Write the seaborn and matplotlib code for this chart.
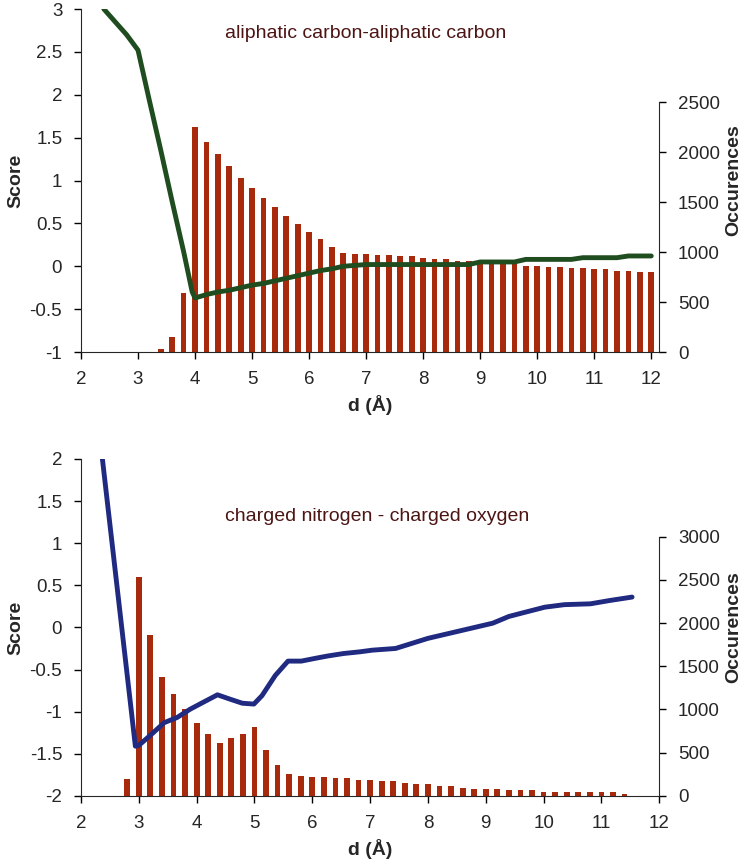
import numpy as np
import pandas as pd
import matplotlib
matplotlib.use("Agg")
import matplotlib.pyplot as plt
from matplotlib.ticker import FuncFormatter
import seaborn as sns

# --- painel de cima: carbono alifatico - carbono alifatico
cc_bar_d = [3.4, 3.6, 3.8, 4.0, 4.2, 4.4, 4.6, 4.8, 5.0, 5.2, 5.4, 5.6, 5.8, 6.0,
            6.2, 6.4, 6.6, 6.8, 7.0, 7.2, 7.4, 7.6, 7.8, 8.0, 8.2, 8.4, 8.6, 8.8,
            9.0, 9.2, 9.4, 9.6, 9.8, 10.0, 10.2, 10.4, 10.6, 10.8, 11.0, 11.2,
            11.4, 11.6, 11.8, 12.0]
cc_counts = [33, 150, 593, 2247, 2103, 1977, 1860, 1743, 1643, 1543, 1453, 1357,
             1283, 1200, 1127, 1053, 993, 980, 977, 967, 967, 957, 957, 943, 927,
             927, 910, 910, 890, 890, 883, 877, 863, 863, 850, 850, 840, 840, 827,
             827, 810, 810, 797, 797]
cc_line_d = [2.4, 2.8, 3.0, 3.2, 3.4, 3.6, 3.8, 3.95, 4.0, 4.2, 4.4, 4.6, 4.8, 5.0,
             5.2, 5.4, 5.6, 5.8, 6.0, 6.2, 6.4, 6.6, 6.8, 7.0, 7.4, 7.8, 8.2, 8.6,
             8.8, 9.0, 9.6, 9.8, 10.6, 10.8, 11.4, 11.6, 12.0]
cc_score = [3.0, 2.7, 2.52, 1.93, 1.35, 0.75, 0.17, -0.3, -0.37, -0.33, -0.3, -0.28,
            -0.25, -0.22, -0.2, -0.17, -0.14, -0.11, -0.08, -0.05, -0.03, 0.0, 0.01,
            0.02, 0.02, 0.02, 0.02, 0.02, 0.02, 0.05, 0.05, 0.08, 0.08, 0.1, 0.1,
            0.12, 0.12]

# --- painel de baixo: nitrogenio carregado - oxigenio carregado
no_bar_d = [2.8, 3.0, 3.2, 3.4, 3.6, 3.8, 4.0, 4.2, 4.4, 4.6, 4.8, 5.0, 5.2, 5.4,
            5.6, 5.8, 6.0, 6.2, 6.4, 6.6, 6.8, 7.0, 7.2, 7.4, 7.6, 7.8, 8.0, 8.2,
            8.4, 8.6, 8.8, 9.0, 9.2, 9.4, 9.6, 9.8, 10.0, 10.2, 10.4, 10.6, 10.8,
            11.0, 11.2, 11.4]
no_counts = [200, 2529, 1865, 1378, 1174, 1000, 846, 722, 618, 672, 722, 792, 529,
             359, 259, 232, 220, 220, 205, 205, 189, 185, 174, 170, 154, 135, 135,
             116, 116, 97, 81, 81, 81, 66, 66, 66, 50, 50, 50, 50, 50, 50, 50, 27]
no_line_d = [2.37, 2.94, 3.0, 3.2, 3.44, 3.66, 3.89, 4.11, 4.36, 4.57, 4.79, 4.99,
             5.13, 5.36, 5.58, 5.81, 6.03, 6.26, 6.54, 6.82, 7.04, 7.44, 8.0, 8.56,
             9.12, 9.4, 9.68, 10.02, 10.36, 10.81, 11.15, 11.53]
no_score = [2.0, -1.41, -1.4, -1.28, -1.13, -1.07, -0.97, -0.89, -0.8, -0.85, -0.9,
            -0.91, -0.81, -0.57, -0.4, -0.4, -0.37, -0.34, -0.31, -0.29, -0.27,
            -0.25, -0.13, -0.04, 0.05, 0.13, 0.18, 0.24, 0.27, 0.28, 0.32, 0.36]

bar_color = "#a82a0c"
text_color = "#4d1414"

sns.set_style("ticks")
plt.rcParams["font.family"] = ["Liberation Sans", "DejaVu Sans"]
plt.rcParams["axes.unicode_minus"] = False

fig = plt.figure(figsize=(7.5, 8.67), dpi=100)
ax_top = fig.add_axes([0.108, 0.594, 0.771, 0.3956])
ax_bot = fig.add_axes([0.108, 0.082, 0.771, 0.3887])

paineis = [
    (ax_top, cc_bar_d, cc_counts, cc_line_d, cc_score, "#1f4d1f",
     "aliphatic carbon-aliphatic carbon", (-1, 3), 3430, 2500, 12.14, 0.93),
    (ax_bot, no_bar_d, no_counts, no_line_d, no_score, "#1f2a80",
     "charged nitrogen - charged oxygen", (-2, 2), 3900, 3000, 12.0, 0.828),
]

fmt = FuncFormatter(lambda v, p: "%g" % v)

for ax, bd, bc, ld, ls, lc, titulo, ylim, ymax2, top2, xmax, ty in paineis:
    ax2 = ax.twinx()
    df_bar = pd.DataFrame({"d": bd, "n": bc})
    df_line = pd.DataFrame({"d": ld, "s": ls})

    sns.barplot(data=df_bar, x="d", y="n", ax=ax2, native_scale=True, width=0.5,
                color=bar_color, saturation=1, errorbar=None, linewidth=0)
    sns.lineplot(data=df_line, x="d", y="s", ax=ax, color=lc, linewidth=3.5,
                 sort=False)

    # linha por cima das barras
    ax.set_zorder(ax2.get_zorder() + 1)
    ax.patch.set_visible(False)

    ax.set_xlim(2, xmax)
    ax.set_xticks(range(2, 13))
    ax.set_ylim(*ylim)
    ax.set_yticks(np.arange(ylim[0], ylim[1] + 0.01, 0.5))
    ax.yaxis.set_major_formatter(fmt)
    ax.set_xlabel("d (Å)", fontweight="bold", fontsize=14, labelpad=5)
    ax.set_ylabel("Score", fontweight="bold", fontsize=14, labelpad=4)

    ax2.set_ylim(0, ymax2)
    ax2.set_yticks(range(0, top2 + 1, 500))
    ax2.spines["right"].set_bounds(0, top2)
    ax2.set_ylabel("Occurences", fontweight="bold", fontsize=14, labelpad=4)
    ax2.set_xlabel("")

    for a in (ax, ax2):
        a.spines["top"].set_visible(False)
        a.tick_params(labelsize=13.5, width=1, length=5, color="black")
    ax.tick_params(axis="x", pad=9)
    ax.tick_params(axis="y", pad=8.5)
    ax2.tick_params(axis="y", pad=8.5)
    ax.spines["right"].set_visible(False)
    ax2.spines["left"].set_visible(False)
    ax2.spines["bottom"].set_visible(False)

    ax.text(0.249, ty, titulo, transform=ax.transAxes, color=text_color,
            fontsize=14, va="center", ha="left")

fig.savefig("out.png", dpi=100)
